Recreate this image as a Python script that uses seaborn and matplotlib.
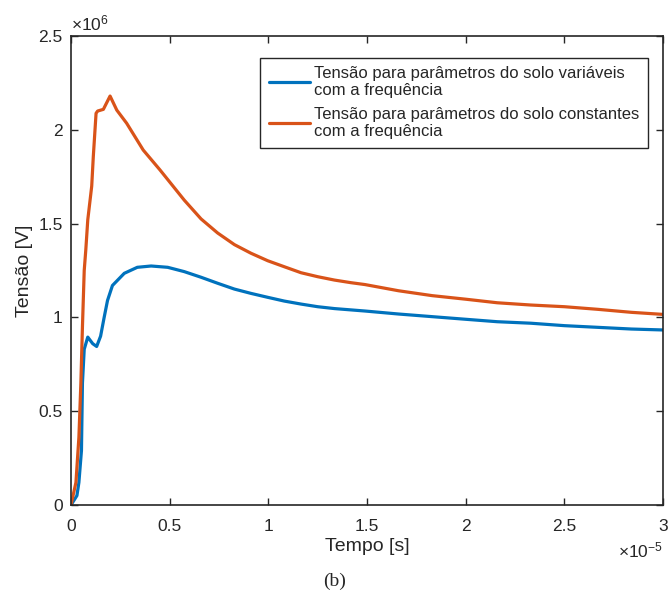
import matplotlib
matplotlib.use("Agg")
import matplotlib.pyplot as plt
import seaborn as sns
import pandas as pd

# time in units of 1e-5 s, voltage in units of 1e6 V
t_const = [0, 0.025, 0.04, 0.05, 0.058, 0.067, 0.075, 0.085, 0.105, 0.113, 0.127,
           0.135, 0.164, 0.198, 0.232, 0.282, 0.366, 0.451, 0.49, 0.574, 0.659, 0.743,
           0.828, 0.912, 0.997, 1.081, 1.166, 1.25, 1.335, 1.419, 1.49, 1.66, 1.83, 2.0,
           2.16, 2.33, 2.5, 2.67, 2.84, 3.0]
v_const = [0, 0.12, 0.36, 0.65, 0.95, 1.25, 1.36, 1.52, 1.70, 1.857, 2.088,
           2.10, 2.109, 2.18, 2.105, 2.035, 1.892, 1.786, 1.735, 1.625, 1.525, 1.45,
           1.388, 1.342, 1.302, 1.270, 1.238, 1.217, 1.199, 1.185, 1.175, 1.142, 1.116, 1.097,
           1.078, 1.066, 1.057, 1.043, 1.027, 1.016]

t_var = [0, 0.03, 0.04, 0.053, 0.058, 0.067, 0.085, 0.11, 0.13, 0.15, 0.168, 0.185,
         0.21, 0.27, 0.336, 0.406, 0.49, 0.574, 0.659, 0.743, 0.828, 0.912, 0.997,
         1.081, 1.166, 1.25, 1.335, 1.49, 1.66, 1.83, 2.0, 2.16, 2.33, 2.5, 2.67, 2.84, 3.0]
v_var = [0, 0.05, 0.12, 0.29, 0.65, 0.83, 0.895, 0.86, 0.845, 0.90, 1.0, 1.09,
         1.17, 1.235, 1.267, 1.274, 1.267, 1.244, 1.214, 1.182, 1.151, 1.128, 1.107,
         1.087, 1.071, 1.057, 1.047, 1.034, 1.018, 1.004, 0.99, 0.977, 0.969, 0.956,
         0.947, 0.938, 0.933]

label_var = "Tensão para parâmetros do solo variáveis\ncom a frequência"
label_const = "Tensão para parâmetros do solo constantes\ncom a frequência"

x_ticks = [0, 0.5, 1, 1.5, 2, 2.5, 3]
x_ticklabels = ["0", "0.5", "1", "1.5", "2", "2.5", "3"]
y_ticks = [0, 0.5, 1, 1.5, 2, 2.5]
y_ticklabels = ["0", "0.5", "1", "1.5", "2", "2.5"]

df = pd.concat([
    pd.DataFrame({"t": t_var, "v": v_var, "serie": label_var}),
    pd.DataFrame({"t": t_const, "v": v_const, "serie": label_const}),
])

sns.set_style("ticks")
plt.rcParams["font.family"] = ["Liberation Sans", "DejaVu Sans"]
plt.rcParams["mathtext.fontset"] = "custom"
plt.rcParams["mathtext.rm"] = "Liberation Sans"
plt.rcParams["mathtext.it"] = "Liberation Sans"
plt.rcParams["mathtext.bf"] = "Liberation Sans:bold"

TXT = "#262626"

fig = plt.figure(figsize=(6.69, 5.92), dpi=100)
ax = fig.add_axes([71 / 669, 1 - 505 / 592, 592 / 669, 469 / 592])

sns.lineplot(data=df, x="t", y="v", hue="serie", sort=False, estimator=None,
             palette={label_var: "#0072BD", label_const: "#D95319"},
             linewidth=2.3, ax=ax)

ax.set_xlim(0, 3)
ax.set_ylim(0, 2.5)
ax.set_xticks(x_ticks)
ax.set_xticklabels(x_ticklabels)
ax.set_yticks(y_ticks)
ax.set_yticklabels(y_ticklabels)
ax.tick_params(direction="in", top=True, right=True, length=5, width=1,
               colors=TXT, labelsize=12.5)
ax.tick_params(axis="x", pad=10)
ax.tick_params(axis="y", pad=6)
for s in ax.spines.values():
    s.set_visible(True)
    s.set_color(TXT)
    s.set_linewidth(1.2)

ax.set_xlabel("Tempo [s]", fontsize=14, color=TXT, labelpad=3)
ax.set_ylabel("Tensão [V]", fontsize=14, color=TXT, labelpad=4)

ax.text(0.0, 1.006, r"$\times10^{6}$", transform=ax.transAxes, fontsize=12.5,
        color=TXT, ha="left", va="bottom")
ax.text(1.0, -0.075, r"$\times10^{-5}$", transform=ax.transAxes, fontsize=12.5,
        color=TXT, ha="right", va="top")

leg = ax.legend(loc="upper right", bbox_to_anchor=(0.9747, 0.9537), fontsize=12,
                frameon=True, fancybox=False, edgecolor=TXT, framealpha=1,
                handlelength=2.5, handletextpad=0.25, borderpad=0.5,
                borderaxespad=0, labelspacing=0.5, title=None)
leg.get_frame().set_linewidth(1.0)
for txt in leg.get_texts():
    txt.set_color(TXT)

fig.text(0.5, 0.004, "(b)", family=["Liberation Serif", "DejaVu Serif"],
         fontsize=14, ha="center", va="bottom")

fig.savefig("out.png", dpi=100)
